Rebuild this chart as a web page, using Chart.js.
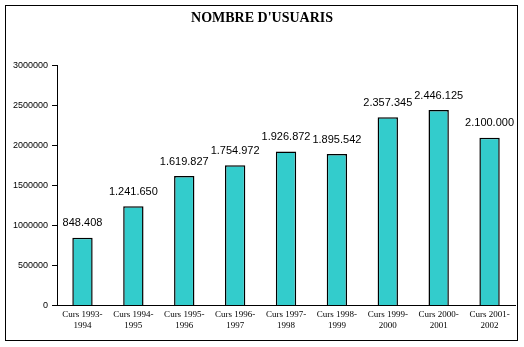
<!DOCTYPE html>
<html>
<head>
<meta charset="utf-8">
<script src="https://cdn.jsdelivr.net/npm/chart.js@4.4.1/dist/chart.umd.min.js"></script>
<style>
  html, body { margin: 0; padding: 0; background: #fff; }
  #wrap { position: relative; width: 524px; height: 347px; }
  #frame { position: absolute; left: 5px; top: 5px; width: 513px; height: 336px; border: 1px solid #000; box-sizing: border-box; pointer-events: none; }
  canvas { position: absolute; left: 0; top: 0; }
</style>
</head>
<body>
<div id="wrap">
  <canvas id="chart" width="524" height="347"></canvas>
  <div id="frame"></div>
</div>
<script>
// dades
const CATEGORIES = [
  ['Curs 1993-', '1994'], ['Curs 1994-', '1995'], ['Curs 1995-', '1996'],
  ['Curs 1996-', '1997'], ['Curs 1997-', '1998'], ['Curs 1998-', '1999'],
  ['Curs 1999-', '2000'], ['Curs 2000-', '2001'], ['Curs 2001-', '2002']
];
const USUARIS = [848408, 1241650, 1619827, 1754972, 1926872, 1895542, 2357345, 2446125, 2100000];
const Y_MAX = 3000000;
const Y_STEP = 500000;

// 1234567 -> 1.234.567
function fmt(v){
  return String(v).replace(/\B(?=(\d{3})+(?!\d))/g, '.');
}

// etiquetes sobre les barres
const valueLabels = {
  id: 'valueLabels',
  afterDatasetsDraw(chart){
    const ctx = chart.ctx;
    const meta = chart.getDatasetMeta(0);
    ctx.save();
    ctx.font = '11px "Liberation Sans", Arial, sans-serif';
    ctx.fillStyle = '#000';
    ctx.textAlign = 'center';
    ctx.textBaseline = 'bottom';
    meta.data.forEach((bar, i) => {
      ctx.fillText(fmt(USUARIS[i]), bar.x, bar.y - 9);
    });
    ctx.restore();
  }
};

new Chart(document.getElementById('chart'), {
  type: 'bar',
  data: {
    labels: CATEGORIES,
    datasets: [{
      data: USUARIS,
      backgroundColor: '#33CCCC',
      borderColor: '#000',
      borderWidth: 1.5,
      barPercentage: 0.4,
      categoryPercentage: 1
    }]
  },
  options: {
    responsive: false,
    animation: false,
    layout: { padding: { left: 9, right: 9, top: 0, bottom: 12 } },
    plugins: {
      legend: { display: false },
      tooltip: { enabled: false },
      title: {
        display: true,
        text: "NOMBRE D'USUARIS",
        color: '#000',
        font: { family: '"Liberation Serif", "Times New Roman", serif', size: 14, weight: 'bold' },
        padding: { top: 10, bottom: 39 }
      }
    },
    scales: {
      x: {
        grid: { display: false, drawTicks: false },
        border: { color: '#000', width: 1 },
        ticks: {
          color: '#000',
          font: { family: '"Liberation Serif", "Times New Roman", serif', size: 9 },
          padding: 4,
          maxRotation: 0,
          autoSkip: false
        }
      },
      y: {
        min: 0,
        max: Y_MAX,
        grid: { drawOnChartArea: false, tickLength: 5, color: '#000' },
        border: { color: '#000', width: 1 },
        ticks: {
          stepSize: Y_STEP,
          color: '#000',
          font: { family: '"Liberation Sans", Arial, sans-serif', size: 9 },
          padding: 4,
          callback: v => String(v)
        }
      }
    }
  },
  plugins: [valueLabels]
});
</script>
</body>
</html>
